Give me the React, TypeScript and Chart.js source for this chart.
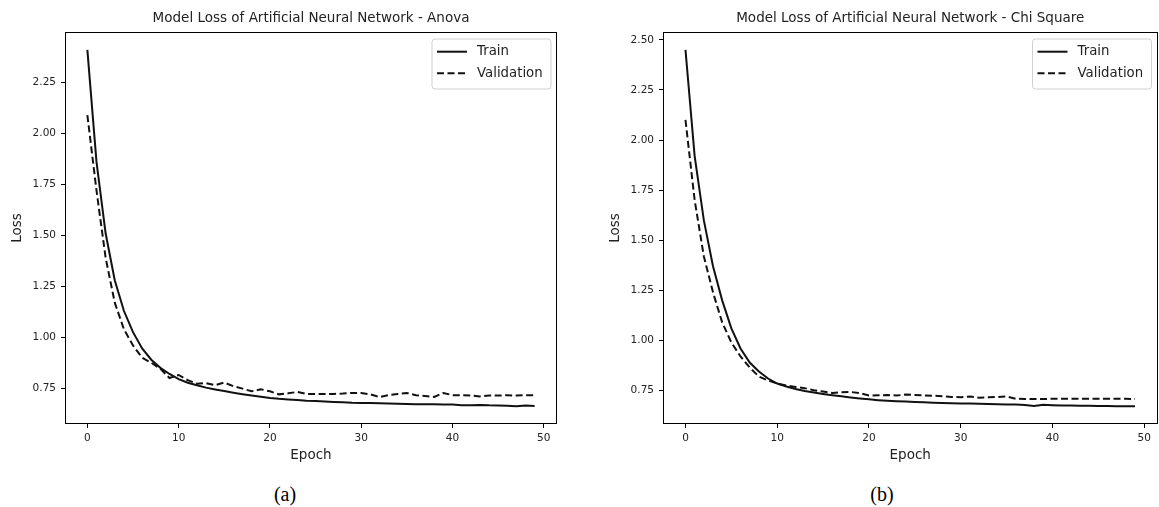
import React, { useEffect, useRef } from 'react';
import { Chart, registerables } from 'chart.js';

Chart.register(...registerables);

const epochs = [0, 1, 2, 3, 4, 5, 6, 7, 8, 9, 10, 11, 12, 13, 14, 15, 16, 17, 18, 19, 20, 21, 22, 23, 24, 25, 26, 27, 28, 29, 30, 31, 32, 33, 34, 35, 36, 37, 38, 39, 40, 41, 42, 43, 44, 45, 46, 47, 48, 49];

const trainAnova = [2.41, 1.86, 1.51, 1.28, 1.13, 1.025, 0.945, 0.89, 0.85, 0.82, 0.795, 0.777, 0.765, 0.753, 0.744, 0.736, 0.728, 0.721, 0.714, 0.708, 0.702, 0.698, 0.695, 0.692, 0.689, 0.687, 0.685, 0.683, 0.681, 0.679, 0.678, 0.677, 0.676, 0.675, 0.674, 0.673, 0.672, 0.672, 0.671, 0.67, 0.67, 0.667, 0.667, 0.668, 0.666, 0.665, 0.664, 0.662, 0.665, 0.663];
const valAnova = [2.09, 1.72, 1.39, 1.17, 1.04, 0.96, 0.9, 0.875, 0.845, 0.8, 0.815, 0.79, 0.772, 0.775, 0.765, 0.778, 0.76, 0.748, 0.735, 0.745, 0.735, 0.72, 0.725, 0.732, 0.722, 0.722, 0.722, 0.722, 0.724, 0.727, 0.727, 0.72, 0.707, 0.716, 0.722, 0.727, 0.716, 0.712, 0.707, 0.727, 0.716, 0.716, 0.714, 0.71, 0.714, 0.714, 0.716, 0.714, 0.716, 0.716];

const trainChi = [2.45, 1.92, 1.6, 1.37, 1.2, 1.06, 0.96, 0.89, 0.845, 0.81, 0.785, 0.77, 0.758, 0.748, 0.74, 0.733, 0.727, 0.721, 0.715, 0.71, 0.706, 0.702, 0.699, 0.697, 0.695, 0.693, 0.691, 0.689, 0.688, 0.687, 0.686, 0.685, 0.684, 0.683, 0.682, 0.681, 0.68, 0.678, 0.673, 0.679, 0.677, 0.676, 0.675, 0.674, 0.674, 0.673, 0.673, 0.672, 0.672, 0.672];
const valChi = [2.1, 1.7, 1.42, 1.24, 1.09, 0.99, 0.92, 0.865, 0.82, 0.8, 0.785, 0.775, 0.768, 0.762, 0.752, 0.745, 0.738, 0.742, 0.743, 0.737, 0.725, 0.726, 0.728, 0.725, 0.73, 0.728, 0.726, 0.724, 0.722, 0.718, 0.717, 0.72, 0.714, 0.716, 0.718, 0.72, 0.709, 0.708, 0.708, 0.708, 0.709, 0.709, 0.709, 0.709, 0.709, 0.709, 0.709, 0.709, 0.709, 0.708];

const xTickValues = [0, 10, 20, 30, 40, 50];
const yTicksAnova = [0.75, 1.0, 1.25, 1.5, 1.75, 2.0, 2.25];
const yTicksChi = [0.75, 1.0, 1.25, 1.5, 1.75, 2.0, 2.25, 2.5];
const seriesLabels = ['Train', 'Validation'];
const panelTitles = ['Model Loss of Artificial Neural Network - Anova', 'Model Loss of Artificial Neural Network - Chi Square'];
const captions = ['(a)', '(b)'];
const xLabel = 'Epoch';
const yLabel = 'Loss';

const FAMILY = '"DejaVu Sans", sans-serif';
const LINE = '#111';
const DASH = [7, 3.5];

type PanelProps = {
  title: string;
  train: number[];
  val: number[];
  yTicks: number[];
  yAxisWidth: number;
  yTitlePad: number;
  padRight: number;
  width: number;
  left: number;
};

function Panel(p: PanelProps) {
  const ref = useRef<HTMLCanvasElement | null>(null);
  useEffect(() => {
    const all = [...p.train, ...p.val];
    const lo = Math.min(...all);
    const hi = Math.max(...all);
    const ym = (hi - lo) * 0.05;
    const xmin = epochs[0];
    const xmax = epochs[epochs.length - 1];
    const xm = (xmax - xmin) * 0.05;

    const frame = {
      id: 'frame',
      afterDraw(chart: any) {
        const { ctx, chartArea } = chart;
        const { left, right, top, bottom } = chartArea;
        ctx.save();
        // spines
        ctx.strokeStyle = '#000';
        ctx.lineWidth = 1;
        ctx.setLineDash([]);
        const l = Math.round(left) + 0.5;
        const t = Math.round(top) + 0.5;
        const r = Math.round(right) - 0.5;
        const b = Math.round(bottom) - 0.5;
        ctx.strokeRect(l, t, r - l, b - t);
        // title
        ctx.fillStyle = '#222';
        ctx.font = `13.5px ${FAMILY}`;
        ctx.textAlign = 'center';
        ctx.textBaseline = 'middle';
        ctx.fillText(p.title, (left + right) / 2, 18);
        // legend
        const bw = 119;
        const bh = 50;
        const bx = right - 6 - bw;
        const by = top + 7;
        ctx.beginPath();
        const rad = 3;
        ctx.moveTo(bx + rad, by);
        ctx.lineTo(bx + bw - rad, by);
        ctx.quadraticCurveTo(bx + bw, by, bx + bw, by + rad);
        ctx.lineTo(bx + bw, by + bh - rad);
        ctx.quadraticCurveTo(bx + bw, by + bh, bx + bw - rad, by + bh);
        ctx.lineTo(bx + rad, by + bh);
        ctx.quadraticCurveTo(bx, by + bh, bx, by + bh - rad);
        ctx.lineTo(bx, by + rad);
        ctx.quadraticCurveTo(bx, by, bx + rad, by);
        ctx.closePath();
        ctx.fillStyle = 'rgba(255,255,255,0.8)';
        ctx.fill();
        ctx.strokeStyle = '#d0d0d0';
        ctx.stroke();
        const rows = [by + 12.7, by + 34.3];
        chart.data.datasets.forEach((ds: any, i: number) => {
          const yy = rows[i];
          ctx.beginPath();
          ctx.strokeStyle = LINE;
          ctx.lineWidth = 2;
          ctx.setLineDash(ds.borderDash || []);
          ctx.moveTo(bx + 5, yy);
          ctx.lineTo(bx + 35, yy);
          ctx.stroke();
          ctx.setLineDash([]);
          ctx.fillStyle = '#222';
          ctx.font = `13.3px ${FAMILY}`;
          ctx.textAlign = 'left';
          ctx.textBaseline = 'middle';
          ctx.fillText(ds.label, bx + 45, yy);
        });
        ctx.restore();
      },
    };

    const chart = new Chart(ref.current as HTMLCanvasElement, {
      type: 'line',
      data: {
        datasets: [
          {
            label: seriesLabels[0],
            data: epochs.map((e, i) => ({ x: e, y: p.train[i] })),
            borderColor: LINE,
            borderWidth: 2,
            pointRadius: 0,
            tension: 0,
            fill: false,
          },
          {
            label: seriesLabels[1],
            data: epochs.map((e, i) => ({ x: e, y: p.val[i] })),
            borderColor: LINE,
            borderWidth: 2,
            borderDash: DASH,
            pointRadius: 0,
            tension: 0,
            fill: false,
          },
        ],
      },
      options: {
        animation: false,
        responsive: false,
        maintainAspectRatio: false,
        layout: { padding: { left: 0, right: p.padRight, top: 32, bottom: 6 } },
        plugins: {
          legend: { display: false },
          title: { display: false },
          tooltip: { enabled: false },
        },
        scales: {
          x: {
            type: 'linear',
            min: xmin - xm,
            max: xmax + xm,
            afterBuildTicks: (s: any) => {
              s.ticks = xTickValues.map((v) => ({ value: v }));
            },
            afterFit: (s: any) => {
              s.height = 40;
            },
            grid: { display: true, drawOnChartArea: false, drawTicks: true, tickLength: 4, color: '#000', lineWidth: 1 },
            border: { display: false },
            ticks: {
              font: { family: FAMILY, size: 10.5 },
              color: '#222',
              padding: 4,
              maxRotation: 0,
              autoSkip: false,
              callback: (v: any) => String(v),
            },
            title: { display: true, text: xLabel, font: { family: FAMILY, size: 13.5 }, color: '#222', padding: { top: 0, bottom: 0 } },
          },
          y: {
            type: 'linear',
            min: lo - ym,
            max: hi + ym,
            afterBuildTicks: (s: any) => {
              s.ticks = p.yTicks.map((v) => ({ value: v }));
            },
            afterFit: (s: any) => {
              s.width = p.yAxisWidth;
            },
            grid: { display: true, drawOnChartArea: false, drawTicks: true, tickLength: 4, color: '#000', lineWidth: 1 },
            border: { display: false },
            ticks: {
              font: { family: FAMILY, size: 10.5 },
              color: '#222',
              padding: 5,
              autoSkip: false,
              callback: (v: any) => Number(v).toFixed(2),
            },
            title: { display: true, text: yLabel, font: { family: FAMILY, size: 13.5 }, color: '#222', padding: { top: p.yTitlePad, bottom: 0 } },
          },
        },
      } as any,
      plugins: [frame],
    });
    return () => chart.destroy();
  }, []);

  return (
    <canvas
      ref={ref}
      width={p.width}
      height={470}
      style={{ position: 'absolute', left: p.left, top: 0, width: p.width, height: 470 }}
    />
  );
}

export default function App() {
  const capStyle: React.CSSProperties = {
    position: 'absolute',
    top: 481,
    transform: 'translateX(-50%)',
    fontFamily: '"Liberation Serif", "Times New Roman", serif',
    fontSize: 20,
    lineHeight: '26px',
    color: '#000',
  };
  return (
    <div style={{ position: 'absolute', left: 0, top: 0, width: 1159, height: 507, background: '#fff', overflow: 'hidden' }}>
      <Panel
        title={panelTitles[0]}
        train={trainAnova}
        val={valAnova}
        yTicks={yTicksAnova}
        yAxisWidth={65}
        yTitlePad={9}
        padRight={23}
        width={580}
        left={0}
      />
      <Panel
        title={panelTitles[1]}
        train={trainChi}
        val={valChi}
        yTicks={yTicksChi}
        yAxisWidth={83}
        yTitlePad={27}
        padRight={1.5}
        width={579}
        left={580}
      />
      <div style={{ ...capStyle, left: 285 }}>{captions[0]}</div>
      <div style={{ ...capStyle, left: 882 }}>{captions[1]}</div>
    </div>
  );
}
